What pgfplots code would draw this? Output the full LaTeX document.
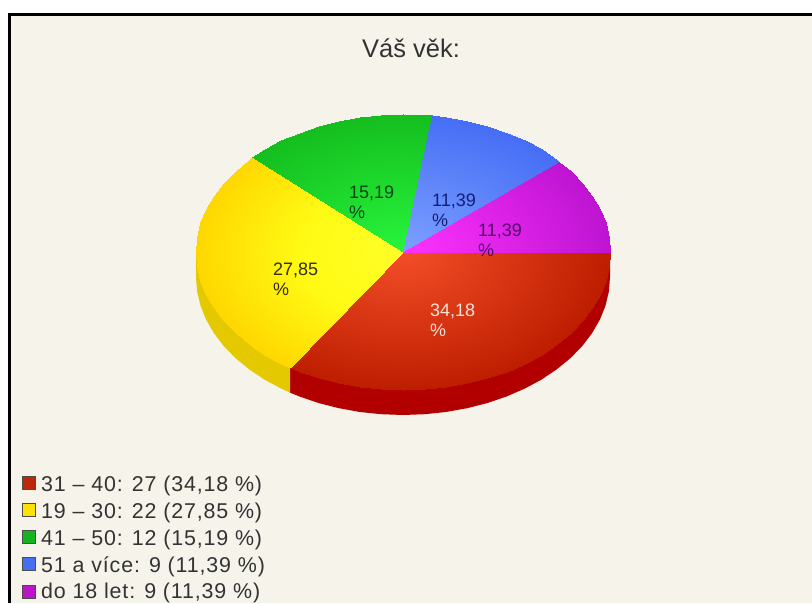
\documentclass[border=0pt]{standalone}
\usepackage{fontspec}
\setmainfont{Liberation Sans}
\newfontfamily\lgfont[LetterSpace=4]{Liberation Sans}
\usepackage{pgfplots}
\usepackage{pgfplotstable}
\pgfplotsset{compat=1.18}
\definecolor{bg}{RGB}{245,243,234}
\definecolor{sidered}{RGB}{178,0,0}
\definecolor{sideyel}{RGB}{228,200,0}
\definecolor{lgred}{RGB}{190,40,10}
\definecolor{lgyel}{RGB}{255,225,0}
\definecolor{lggrn}{RGB}{20,180,30}
\definecolor{lgblu}{RGB}{70,110,240}
\definecolor{lgpur}{RGB}{190,20,200}
\definecolor{txtred}{RGB}{250,225,215}
\definecolor{txtyel}{RGB}{50,45,0}
\definecolor{txtgrn}{RGB}{10,70,20}
\definecolor{txtblu}{RGB}{20,30,120}
\definecolor{txtpur}{RGB}{85,10,105}
\pgfplotsset{
  colormap={mred}{rgb255=(190,30,0) rgb255=(243,78,40)},
  colormap={myel}{rgb255=(255,215,0) rgb255=(255,250,20) rgb255=(255,255,40)},
  colormap={mgrn}{rgb255=(20,190,30) rgb255=(40,245,60)},
  colormap={mblu}{rgb255=(70,110,245) rgb255=(125,160,255)},
  colormap={mpur}{rgb255=(190,20,210) rgb255=(255,50,255)},
  wedge/.style={patch, patch type=triangle, shader=interp, point meta=explicit},
}
% top face of the pie: centre, then rim clockwise from 3 o'clock, in image pixels
% shares 27 22 12 9 9 of 79 give the breaks at rows 22, 40, 50, 58
\pgfplotstableread{
x y c
403 252 1
610 252 0
608.9 266.4 0
605.5 280.7 0
599.9 294.6 0
592.1 308.1 0
582.3 321 0
570.5 333.1 0
556.8 344.3 0
541.5 354.6 0
524.7 363.6 0
506.5 371.5 0
487.2 378.1 0
467 383.2 0
446 387 0
424.6 389.2 0
403 390 0
381.4 389.2 0
360 387 0
339 383.2 0
318.8 378.1 0
299.5 371.5 0
290 367.6 0
281.3 363.6 0
264.5 354.6 0
249.2 344.3 0
235.5 333.1 0
223.7 321 0
213.9 308.1 0
206.1 294.6 0
200.5 280.7 0
197.1 266.4 0
196 252 0
197.1 237.6 0
200.5 223.3 0
206.1 209.4 0
213.9 195.9 0
223.7 183 0
235.5 170.9 0
249.2 159.7 0
252.3 157.4 0
264.5 149.4 0
281.3 140.4 0
299.5 132.5 0
318.8 125.9 0
339 120.8 0
360 117 0
381.4 114.8 0
403 114 0
424.6 114.8 0
431.7 115.3 0
446 117 0
467 120.8 0
487.2 125.9 0
506.5 132.5 0
524.7 140.4 0
541.5 149.4 0
556.8 159.7 0
559.2 161.5 0
570.5 170.9 0
582.3 183 0
592.1 195.9 0
599.9 209.4 0
605.5 223.3 0
608.9 237.6 0
610 252 0
}\rim
\pgfplotsset{table/row sep=\\}
\begin{document}
\begin{tikzpicture}
\begin{axis}[
  scale only axis, width=812pt, height=603pt,
  xmin=0, xmax=812, ymin=0, ymax=603, y dir=reverse,
  hide axis, point meta min=0, point meta max=1,
]
\addplot[fill=white, draw=none] coordinates {(0,0)(812,0)(812,603)(0,603)};
\addplot[fill=bg, draw=none] coordinates {(9.5,14.5)(812,14.5)(812,603)(9.5,603)};
\addplot[draw=black, line width=3pt] coordinates {(9.5,603)(9.5,14.5)(812,14.5)};

% side walls
\addplot[draw=none, fill=sidered] coordinates {
(403,252)(610,252)(610,277)(608.9,291.4)(605.5,305.7)(599.9,319.6)(592.1,333.1)(582.3,346)(570.5,358.1)(556.8,369.3)(541.5,379.6)(524.7,388.6)(506.5,396.5)(487.2,403.1)(467,408.2)(446,412)(424.6,414.2)(403,415)(381.4,414.2)(360,412)(339,408.2)(318.8,403.1)(299.5,396.5)(290,392.6)(290,367.6)};
\addplot[draw=none, fill=sideyel] coordinates {
(403,252)(290,367.6)(290,392.6)(281.3,388.6)(264.5,379.6)(249.2,369.3)(235.5,358.1)(223.7,346)(213.9,333.1)(206.1,319.6)(200.5,305.7)(197.1,291.4)(196,277)(196,252)};

% top face
\addplot[wedge, colormap name=mred, patch table={0 1 2\\0 2 3\\0 3 4\\0 4 5\\0 5 6\\0 6 7\\0 7 8\\0 8 9\\0 9 10\\0 10 11\\0 11 12\\0 12 13\\0 13 14\\0 14 15\\0 15 16\\0 16 17\\0 17 18\\0 18 19\\0 19 20\\0 20 21\\0 21 22\\}] table[x=x, y=y, meta=c] {\rim};
\addplot[wedge, colormap name=myel, patch table={0 22 23\\0 23 24\\0 24 25\\0 25 26\\0 26 27\\0 27 28\\0 28 29\\0 29 30\\0 30 31\\0 31 32\\0 32 33\\0 33 34\\0 34 35\\0 35 36\\0 36 37\\0 37 38\\0 38 39\\0 39 40\\}] table[x=x, y=y, meta=c] {\rim};
\addplot[wedge, colormap name=mgrn, patch table={0 40 41\\0 41 42\\0 42 43\\0 43 44\\0 44 45\\0 45 46\\0 46 47\\0 47 48\\0 48 49\\0 49 50\\}] table[x=x, y=y, meta=c] {\rim};
\addplot[wedge, colormap name=mblu, patch table={0 50 51\\0 51 52\\0 52 53\\0 53 54\\0 54 55\\0 55 56\\0 56 57\\0 57 58\\}] table[x=x, y=y, meta=c] {\rim};
\addplot[wedge, colormap name=mpur, patch table={0 58 59\\0 59 60\\0 60 61\\0 61 62\\0 62 63\\0 63 64\\0 64 65\\}] table[x=x, y=y, meta=c] {\rim};

% legend swatches
\addplot[only marks, mark=square*, mark size=6.5pt, mark options={draw=black!70, fill=lgred}] coordinates {(29,483)};
\addplot[only marks, mark=square*, mark size=6.5pt, mark options={draw=black!70, fill=lgyel}] coordinates {(29,510)};
\addplot[only marks, mark=square*, mark size=6.5pt, mark options={draw=black!70, fill=lggrn}] coordinates {(29,537)};
\addplot[only marks, mark=square*, mark size=6.5pt, mark options={draw=black!70, fill=lgblu}] coordinates {(29,564)};
\addplot[only marks, mark=square*, mark size=6.5pt, mark options={draw=black!70, fill=lgpur}] coordinates {(29,592)};

% title
\node[font=\fontsize{25.5}{26}\selectfont, text=black!80, inner sep=0pt] at (axis cs:411,48) {Váš věk:};

% slice labels
\def\pct#1#2#3#4{\node[anchor=west, inner sep=0pt, text=#4, font=\fontsize{18}{20}\selectfont, align=left] at (axis cs:#1,#2) {#3\\\%};}
\pct{430}{320}{34,18}{txtred}
\pct{273}{279}{27,85}{txtyel}
\pct{349}{202}{15,19}{txtgrn}
\pct{432}{210}{11,39}{txtblu}
\pct{478}{240}{11,39}{txtpur}

% legend text
\begin{scope}[every node/.style={anchor=west, inner sep=0pt, text=black!80, font=\lgfont\fontsize{21.4}{22}\selectfont}]
\node at (axis cs:41,486) {31 – 40: 27 (34,18 \%)};
\node at (axis cs:41,513) {19 – 30: 22 (27,85 \%)};
\node at (axis cs:41,540) {41 – 50: 12 (15,19 \%)};
\node at (axis cs:41,567) {51 a více: 9 (11,39 \%)};
\node at (axis cs:41,593) {do 18 let: 9 (11,39 \%)};
\end{scope}
\end{axis}
\end{tikzpicture}
\end{document}
